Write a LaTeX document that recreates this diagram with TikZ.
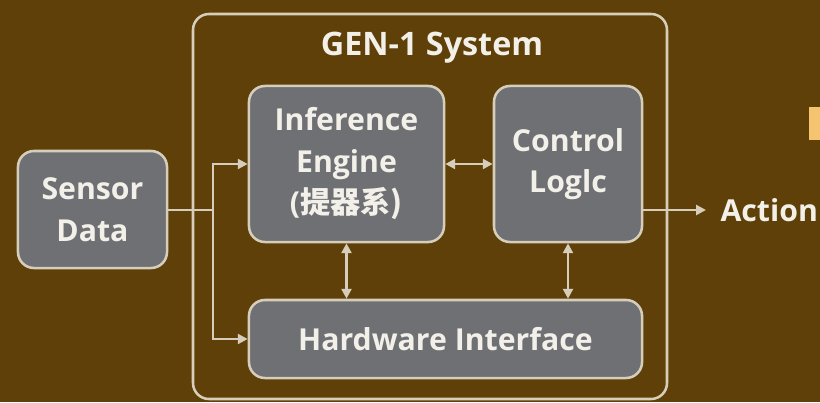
\documentclass[tikz,border=0pt]{standalone}
\usepackage{fontspec}
\setmainfont{Open Sans}
\newfontfamily\cjk{Noto Sans CJK SC}
\usetikzlibrary{arrows.meta,positioning}

\definecolor{bgbrown}{RGB}{94,64,8}
\definecolor{boxgray}{RGB}{110,112,116}
\definecolor{rim}{RGB}{214,206,186}
\definecolor{ink}{RGB}{242,240,232}
\definecolor{tabamber}{RGB}{245,196,112}

\begin{document}
\begin{tikzpicture}[x=0.025cm,y=-0.025cm,
        thick,
        block/.style={rectangle,rounded corners=0.4cm,draw=rim,line width=1.8pt,
            fill=boxgray,text=ink,align=center,inner sep=0pt,
            font=\bfseries\fontsize{21.5}{29.5}\selectfont},
        wire/.style={draw=rim,line width=1.8pt},
        flow/.style={wire,-{Triangle[length=7pt,width=7pt]}},
        both/.style={wire,{Triangle[length=7pt,width=7pt]}-{Triangle[length=7pt,width=7pt]}}]

    % background and frame
    \fill[bgbrown] (0,0) rectangle (820,402);
    \useasboundingbox (0,0) rectangle (820,402);
    \draw[rim,line width=1.8pt,rounded corners=0.4cm] (193,14) rectangle (667,399);
    \fill[tabamber] (809,107) rectangle (822,140);
    \node[text=ink,font=\bfseries\fontsize{23}{27}\selectfont] (title) at (432,48) {GEN-1 System};

    % blocks
    \node[block,minimum width=3.725cm,minimum height=2.925cm] (sensor) at (92.5,209.5) {Sensor\\Data};
    \node[block,minimum width=4.875cm,minimum height=3.9cm] (infer) at (346.5,164)
        {Inference\\Engine\\(\cjk 提器系)};
    \node[block,minimum width=3.7cm,minimum height=3.9cm] (ctrl) at (568,164) {Control\\Loglc};
    \node[block,minimum width=9.825cm,minimum height=1.95cm] (hw) at (445.5,339) {Hardware Interface};
    \node[text=ink,anchor=west,inner sep=0pt,font=\bfseries\fontsize{21.5}{25}\selectfont]
        (act) at (720,210) {Action};

    % connectors
    \coordinate (split) at (213,210);
    \draw[wire] (sensor.east |- split) -- (split);
    \draw[flow] (split) |- (infer.west);
    \draw[flow] (split) |- (hw.west);
    \draw[both] (infer) -- (ctrl);
    \draw[both] (infer.south) -- (infer.south |- hw.north);
    \draw[both] (ctrl.south) -- (ctrl.south |- hw.north);
    \draw[flow] (ctrl.east |- act) -- ([xshift=-0.35cm]act.west);
\end{tikzpicture}
\end{document}
